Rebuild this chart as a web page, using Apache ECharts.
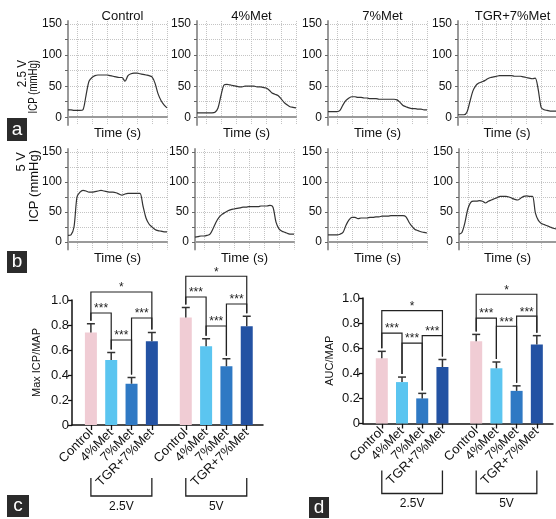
<!DOCTYPE html>
<html>
<head>
<meta charset="utf-8">
<script src="https://cdn.jsdelivr.net/npm/echarts@6/dist/echarts.min.js"></script>
<style>
  html, body { margin: 0; padding: 0; background: #fff; }
  #main { width: 556px; height: 519px; }
</style>
</head>
<body>
<div id="main"></div>
<script>
// ---- data ----
const traceTitles = ['Control', '4%Met', '7%Met', 'TGR+7%Met'];
const rowVoltages = ['2.5 V', '5 V'];
const icpTicks = [0, 25, 50, 75, 100, 125, 150];
const icpLabels = [0, 50, 100, 150];

// ICP traces (mmHg), sampled evenly along the time axis
const ctrl25 = [12,12,11,11,11,12,35,58,64,67,68,68,68,68,67,66,65,64,64,58,67,70,71,71,70,69,68,67,65,55,38,27,20,15];
const met4_25 = [7,7,7,7,7,7,8,15,35,52,53,52,51,50,49,49,50,50,50,50,49,49,48,47,44,39,37,35,30,24,20,17,16,15];
const met7_25 = [9,9,9,9,11,20,27,31,33,33,32,32,31,31,30,30,30,29,29,29,29,29,29,28,24,19,17,15,14,14,13,13,12,12];
const tgr25 = [4,4,4,8,25,42,51,55,57,59,62,64,65,66,67,67,67,67,67,66,66,66,65,64,63,62,63,45,16,12,11,10,10,10];
const ctrl5 = [11,12,25,75,83,86,85,83,83,84,85,86,85,84,83,83,82,80,78,80,81,81,81,81,81,60,40,30,25,21,19,18,17,17];
const met4_5 = [8,9,10,10,11,13,22,33,41,46,49,52,54,55,56,57,58,58,59,59,59,59,60,60,60,61,58,33,22,18,16,14,13,13];
const met7_5 = [12,12,12,12,13,16,28,37,41,41,39,40,40,40,41,41,42,42,43,43,43,44,44,44,44,44,42,33,26,21,19,17,16,15];
const tgr5 = [13,16,32,55,66,68,68,69,68,65,68,70,72,74,76,76,76,75,73,71,70,73,76,77,76,76,48,36,31,29,27,25,23,22];
const traces = [[ctrl25, met4_25, met7_25, tgr25], [ctrl5, met4_5, met7_5, tgr5]];

// bar panels
const barCats = ['Control', '4%Met', '7%Met', 'TGR+7%Met'];
const barGroups = ['2.5V', '5V'];
const maxIcp25 = [0.74, 0.52, 0.33, 0.67];
const maxIcp25Sem = [0.07, 0.06, 0.05, 0.07];
const maxIcp5 = [0.86, 0.63, 0.47, 0.79];
const maxIcp5Sem = [0.08, 0.06, 0.06, 0.08];
const auc25 = [0.52, 0.33, 0.20, 0.45];
const auc25Sem = [0.055, 0.04, 0.04, 0.06];
const auc5 = [0.655, 0.44, 0.26, 0.63];
const auc5Sem = [0.055, 0.05, 0.04, 0.07];
// significance brackets: bar pairs, labels and bracket heights
const sigPairs = [[0, 3], [0, 1], [1, 2], [2, 3]];
const sigLabels = ['*', '***', '***', '***'];
const sigLevelC25 = [1.064, 0.896, 0.68, 0.856];
const sigLevelC5 = [1.19, 1.024, 0.792, 0.968];
const sigLevelD25 = [0.90, 0.72, 0.64, 0.70];
const sigLevelD5 = [1.03, 0.84, 0.775, 0.855];

// ---- layout ----
const FONT = 'Liberation Sans, Arial, sans-serif';
const colLeft = [[68, 197, 328, 458], [68, 195, 328, 459]];
const rowTop = [21, 149];
const rowHeight = [104, 100.5];
const plotW = 99;
const barColors = ['#f0ccd4', '#5bc5f0', '#2f79c4', '#2352a3'];
const groupStart = [0.93, 5.6];
const barPos = (g, i) => groupStart[g] + i;
const allPos = [];
barGroups.forEach((g, gi) => barCats.forEach((c, ci) => allPos.push(barPos(gi, ci))));
const posLabel = v => {
  let best = 0;
  allPos.forEach((p, k) => { if (Math.abs(p - v) < Math.abs(allPos[best] - v)) best = k; });
  return barCats[best % 4];
};

const chart = echarts.init(document.getElementById('main'));
const grid = [], xAxis = [], yAxis = [], series = [], title = [], graphic = [];

// ICP trace panels
traces.forEach((row, r) => {
  row.forEach((vals, c) => {
    const k = grid.length;
    grid.push({ left: colLeft[r][c], top: rowTop[r], width: plotW, height: rowHeight[r] });
    xAxis.push({
      gridIndex: k, type: 'category', boundaryGap: false,
      data: vals.map((v, i) => i),
      axisLine: { lineStyle: { color: '#9a9a9a', width: 2 } },
      axisTick: { show: false }, axisLabel: { show: false },
      splitLine: { show: true, interval: i => i % 5 === 3, lineStyle: { color: '#c4c4c4', type: 'dotted', width: 1 } },
      name: 'Time (s)', nameLocation: 'middle', nameGap: 2,
      nameTextStyle: { fontSize: 13, color: '#111', fontFamily: FONT, verticalAlign: 'top' }
    });
    yAxis.push({
      gridIndex: k, type: 'value', min: -12.5, max: 155,
      axisLine: { show: true, lineStyle: { color: '#9a9a9a', width: 2 } },
      axisTick: { show: true, customValues: icpTicks, length: 3, lineStyle: { color: '#666' } },
      axisLabel: { customValues: icpLabels, fontSize: 12, color: '#111', margin: 6, fontFamily: FONT },
      splitLine: { show: true, lineStyle: { color: '#c4c4c4', type: 'dotted', width: 1 } }
    });
    series.push({
      type: 'line', xAxisIndex: k, yAxisIndex: k, data: vals, symbol: 'none', smooth: 0.3,
      lineStyle: { color: '#333', width: 1.2 }, silent: true
    });
    if (r === 0) {
      title.push({ text: traceTitles[c], left: colLeft[r][c] + plotW / 2, top: 5, textAlign: 'center',
        textStyle: { fontSize: 13, fontWeight: 'normal', color: '#111', fontFamily: FONT } });
    }
  });
});

// bar panels
function addBarPanel(box, vals, sems, levels, yName, nameGap, groupOff) {
  const k = grid.length;
  grid.push(box);
  xAxis.push({
    gridIndex: k, type: 'value', min: 0, max: 9.4,
    axisLine: { show: true, onZero: false, lineStyle: { color: '#111', width: 1.5 } },
    axisTick: { show: true, customValues: allPos, length: 5, lineStyle: { color: '#111', width: 1.3 } },
    axisLabel: { customValues: allPos, rotate: 45, margin: 6, fontSize: 13, color: '#111', fontFamily: FONT, formatter: posLabel },
    splitLine: { show: false }
  });
  yAxis.push({
    gridIndex: k, type: 'value', min: 0, max: 1, interval: 0.2,
    axisLine: { show: true, lineStyle: { color: '#111', width: 1.5 } },
    axisTick: { show: true, length: 4, lineStyle: { color: '#111', width: 1.3 } },
    axisLabel: { fontSize: 13, color: '#111', margin: 3, fontFamily: FONT, formatter: v => v === 0 ? '0' : v.toFixed(1) },
    splitLine: { show: false },
    name: yName, nameLocation: 'middle', nameGap: nameGap,
    nameTextStyle: { fontSize: 11, color: '#111', fontFamily: FONT }
  });
  const barData = [], errData = [], sigData = [], sigText = [];
  vals.forEach((gv, g) => gv.forEach((v, i) => {
    barData.push({ value: [barPos(g, i), v], itemStyle: { color: barColors[i] } });
    errData.push([barPos(g, i), v, v + sems[g][i]]);
  }));
  levels.forEach((lv, g) => lv.forEach((h, j) => {
    const [a, b] = sigPairs[j];
    sigData.push([barPos(g, a), barPos(g, b), h, vals[g][a] + sems[g][a], vals[g][b] + sems[g][b]]);
    sigText.push(sigLabels[j]);
  }));
  series.push({ type: 'bar', xAxisIndex: k, yAxisIndex: k, data: barData, barWidth: 12, silent: true });
  series.push({
    type: 'custom', xAxisIndex: k, yAxisIndex: k, data: errData, silent: true, z: 3,
    renderItem: (p, api) => {
      const b = api.coord([api.value(0), api.value(1)]);
      const t = api.coord([api.value(0), api.value(2)]);
      const st = { stroke: '#333', lineWidth: 1.5 };
      return { type: 'group', children: [
        { type: 'line', shape: { x1: b[0], y1: b[1], x2: t[0], y2: t[1] }, style: st },
        { type: 'line', shape: { x1: t[0] - 4, y1: t[1], x2: t[0] + 4, y2: t[1] }, style: st }
      ] };
    }
  });
  series.push({
    type: 'custom', xAxisIndex: k, yAxisIndex: k, data: sigData, silent: true, z: 4,
    renderItem: (p, api) => {
      const l = api.coord([api.value(0), api.value(2)]);
      const r = api.coord([api.value(1), api.value(2)]);
      const lb = api.coord([api.value(0), api.value(3)])[1] - 3;
      const rb = api.coord([api.value(1), api.value(4)])[1] - 3;
      return { type: 'group', children: [
        { type: 'polyline', shape: { points: [[l[0], lb], [l[0], l[1]], [r[0], r[1]], [r[0], rb]] },
          style: { stroke: '#222', lineWidth: 1.2, fill: null } },
        { type: 'text', x: (l[0] + r[0]) / 2, y: l[1] + 2,
          style: { text: sigText[p.dataIndex], fill: '#222', font: '12px ' + FONT, align: 'center', verticalAlign: 'bottom' } }
      ] };
    }
  });
  series.push({
    type: 'custom', xAxisIndex: k, yAxisIndex: k, silent: true,
    data: barGroups.map((g, gi) => [barPos(gi, 0), barPos(gi, 3)]),
    renderItem: (p, api) => {
      const a = api.coord([api.value(0), 0]);
      const b = api.coord([api.value(1), 0]);
      const y0 = a[1] + groupOff[0], y1 = a[1] + groupOff[1];
      return { type: 'group', children: [
        { type: 'polyline', shape: { points: [[a[0], y0], [a[0], y1], [b[0], y1], [b[0], y0]] },
          style: { stroke: '#222', lineWidth: 1.3, fill: null } },
        { type: 'text', x: (a[0] + b[0]) / 2, y: a[1] + groupOff[2],
          style: { text: barGroups[p.dataIndex], fill: '#111', font: '12px ' + FONT, align: 'center', verticalAlign: 'middle' } }
      ] };
    }
  });
}
addBarPanel({ left: 72, top: 300, width: 191, height: 125 },
  [maxIcp25, maxIcp5], [maxIcp25Sem, maxIcp5Sem], [sigLevelC25, sigLevelC5], 'Max ICP/MAP', 30, [53, 71, 82]);
addBarPanel({ left: 363, top: 298, width: 190, height: 125.5 },
  [auc25, auc5], [auc25Sem, auc5Sem], [sigLevelD25, sigLevelD5], 'AUC/MAP', 28, [47, 70, 80]);

// row labels (rotated; the 2.5 V row is set narrower in the original) and panel letters
[[22, 60, 33, 60, 0.9, 0.74], [21, 152, 34, 150, 1, 1]].forEach((p, r) => {
  graphic.push({ type: 'text', x: p[0], y: p[1], rotation: Math.PI / 2, scaleX: p[4],
    style: { text: rowVoltages[r], fill: '#111', font: '13px ' + FONT, align: 'right', verticalAlign: 'middle' } });
  graphic.push({ type: 'text', x: p[2], y: p[3], rotation: Math.PI / 2, scaleX: p[5],
    style: { text: 'ICP (mmHg)', fill: '#111', font: '13px ' + FONT, align: 'right', verticalAlign: 'middle' } });
});
[['a', 7, 118, 20, 23], ['b', 7, 251, 20, 22], ['c', 7, 495, 22, 22], ['d', 309, 497, 20, 21]].forEach(p => {
  graphic.push({ type: 'rect', shape: { x: p[1], y: p[2], width: p[3], height: p[4] }, style: { fill: '#2b2b2b' } });
  graphic.push({ type: 'text', x: p[1] + p[3] / 2, y: p[2] + p[4] / 2,
    style: { text: p[0], fill: '#fff', font: '19px ' + FONT, align: 'center', verticalAlign: 'middle' } });
});

chart.setOption({
  animation: false,
  textStyle: { fontFamily: FONT },
  title, grid, xAxis, yAxis, series, graphic
});
</script>
</body>
</html>
